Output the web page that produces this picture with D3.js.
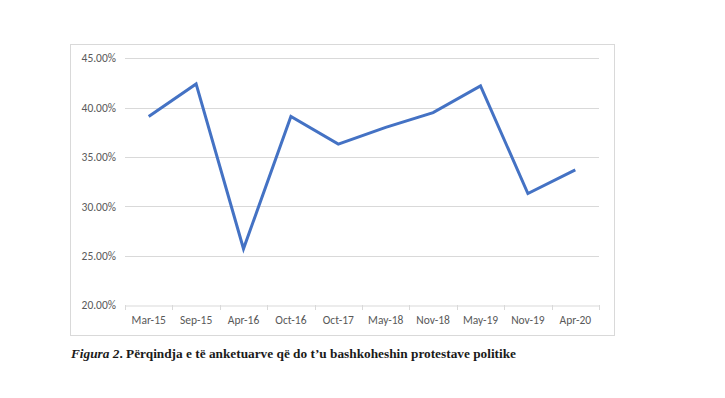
<!DOCTYPE html>
<html>
<head>
<meta charset="utf-8">
<script src="https://cdn.jsdelivr.net/npm/d3@7"></script>
<style>
  body { margin: 0; background: #fff; }
  svg { display: block; }
</style>
</head>
<body>
<svg id="chart" width="725" height="398"></svg>
<script>
// survey rounds and share of respondents (%)
var categories = ['Mar-15', 'Sep-15', 'Apr-16', 'Oct-16', 'Oct-17', 'May-18', 'Nov-18', 'May-19', 'Nov-19', 'Apr-20'];
var values = [39.1, 42.4, 25.7, 39.1, 36.3, 38.0, 39.5, 42.2, 31.3, 33.7];
var yTicks = [20, 25, 30, 35, 40, 45];

var svg = d3.select('#chart');

var frame = {left: 70, top: 44, right: 614, bottom: 335},
    margin = {top: 58.3, right: 599, bottom: 305, left: 125};

// chart area border
svg.append('rect')
  .attr('x', frame.left + 0.5)
  .attr('y', frame.top + 0.5)
  .attr('width', frame.right - frame.left)
  .attr('height', frame.bottom - frame.top)
  .attr('fill', '#fff')
  .attr('stroke', '#d9d9d9');

var xScale = d3.scaleBand()
  .domain(categories)
  .range([margin.left, margin.right]);

var yScale = d3.scaleLinear()
  .domain([20, 45])
  .range([margin.bottom, margin.top]);

// gridlines
svg.append('g')
  .selectAll('line')
  .data(yTicks.slice(1))
  .enter()
  .append('line')
  .attr('x1', margin.left)
  .attr('x2', margin.right)
  .attr('y1', function(d){ return Math.round(yScale(d)) + 0.5; })
  .attr('y2', function(d){ return Math.round(yScale(d)) + 0.5; })
  .attr('stroke', '#d9d9d9')
  .attr('stroke-width', 1);

var xAxis = d3.axisBottom(xScale)
  .tickSizeOuter(0)
  .tickSize(0)
  .tickPadding(10);

var gx = svg.append('g')
  .attr('transform', `translate(0, ${Math.round(margin.bottom) + 0.5})`)
  .call(xAxis);
gx.select('.domain').attr('stroke', '#d9d9d9');
gx.selectAll('text')
  .attr('fill', '#595959')
  .attr('font-family', 'Carlito, "Open Sans", sans-serif')
  .attr('font-size', '11.5px');

// small tick marks between categories
svg.append('g')
  .selectAll('line')
  .data(categories.concat(['end']))
  .enter()
  .append('line')
  .attr('x1', function(d, i){ return Math.round(margin.left + i * xScale.step()) + 0.5; })
  .attr('x2', function(d, i){ return Math.round(margin.left + i * xScale.step()) + 0.5; })
  .attr('y1', Math.round(margin.bottom))
  .attr('y2', Math.round(margin.bottom) + 5)
  .attr('stroke', '#d9d9d9');

var yAxis = d3.axisLeft(yScale)
  .tickValues(yTicks)
  .tickSize(0)
  .tickPadding(9)
  .tickFormat(function(d){ return d.toFixed(2) + '%'; });

var gy = svg.append('g')
  .attr('transform', `translate(${margin.left}, 0)`)
  .call(yAxis);
gy.select('.domain').remove();
gy.selectAll('text')
  .attr('fill', '#595959')
  .attr('font-family', 'Carlito, "Open Sans", sans-serif')
  .attr('font-size', '11.5px');

var valueLine = d3.line()
  .x(function(d, i){ return xScale(categories[i]) + xScale.bandwidth() / 2; })
  .y(function(d){ return yScale(d); });

svg.append('path')
  .datum(values)
  .attr('fill', 'none')
  .attr('stroke', '#4472c4')
  .attr('stroke-width', 3)
  .attr('stroke-linejoin', 'miter')
  .attr('stroke-linecap', 'butt')
  .attr('d', valueLine);

// figure caption
var caption = svg.append('text')
  .attr('x', 71)
  .attr('y', 358)
  .attr('font-family', '"Liberation Serif", "Times New Roman", serif')
  .attr('font-size', '13.3px')
  .attr('font-weight', 'bold')
  .attr('fill', '#1a1a1a');
caption.append('tspan').attr('font-style', 'italic').text('Figura 2');
caption.append('tspan').text('. Përqindja e të anketuarve që do t’u bashkoheshin protestave politike');
</script>
</body>
</html>
